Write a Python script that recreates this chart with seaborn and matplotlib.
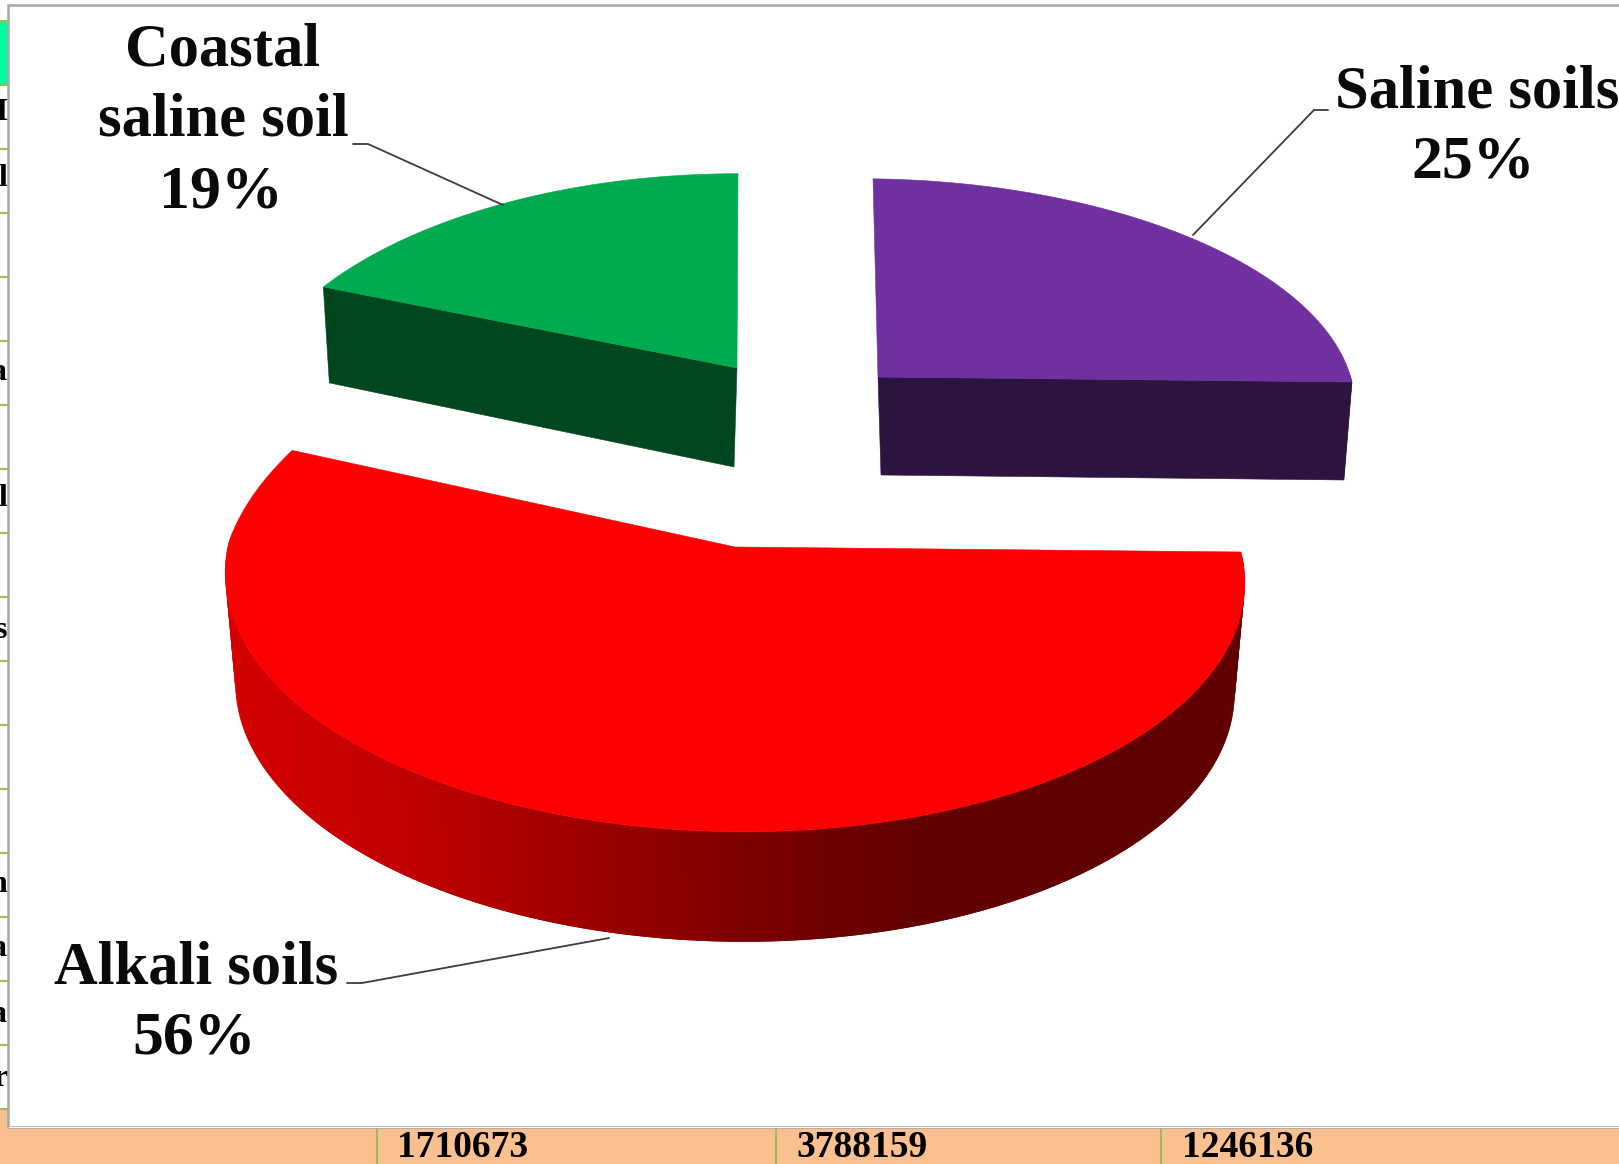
import numpy as np
import matplotlib
matplotlib.use("Agg")
import matplotlib.pyplot as plt
from matplotlib.patches import Polygon, Rectangle
import seaborn as sns

# Soil classes, clockwise from twelve o'clock
soil_names = ["Saline soils", "Alkali soils", "Coastal\nsaline soil"]
soil_shares = [25, 56, 19]
top_colors = ["#7030A0", "#FF0000", "#00AB50"]
side_colors = ["#2D133F", "#600000", "#00461F"]

# Totals printed in the table row beneath the chart
table_totals = ["1710673", "3788159", "1246136"]
# Fragments of the table's first column, left of the chart frame
row_letters = ["H", "l", "a", "l", "s", "n", "a", "a", "r"]
row_letter_y = [113, 178, 373, 499, 631, 885, 949, 1015, 1078]

sns.set_theme(style="white")
SERIF = "Liberation Serif"

W, H = 1619, 1164
fig = plt.figure(figsize=(W / 100, H / 100), dpi=100, facecolor="white")
ax = fig.add_axes([0, 0, 1, 1])
ax.set_xlim(0, W)
ax.set_ylim(H, 0)
ax.axis("off")

# --- table behind the chart ---
GRID = "#9BBB59"
ORANGE = "#FAC090"
ax.add_patch(Rectangle((0, 21), 8, 64, fc="#00FA9A", ec="none", zorder=1))
ax.add_patch(Rectangle((0, 1109), W, H - 1109, fc=ORANGE, ec="none", zorder=1))
for k in range(18):
    ax.plot([0, 8], [21 + 64 * k] * 2, color=GRID, lw=1.5, zorder=2, solid_capstyle="butt")
for xv in [376.5, 776, 1161]:
    ax.plot([xv, xv], [1128, H], color=GRID, lw=1.4, zorder=2)
for label, xt in zip(table_totals, [397, 796, 1182]):
    ax.text(xt, 1157, label, family=SERIF, weight="bold", fontsize=27,
            ha="left", va="baseline", color="black", zorder=2)
strip = Rectangle((0, 0), 6.5, H, transform=ax.transData)
for letter, yt in zip(row_letters, row_letter_y):
    t = ax.text(7, yt, letter, family=SERIF, weight="bold", fontsize=23,
                ha="right", va="center", color="black", zorder=2)
    t.set_clip_path(strip)

# --- chart frame ---
ax.add_patch(Rectangle((8, 4.5), W + 20, 1122, fc="white", ec="#A6A6A6", lw=1.8, zorder=3))
ax.add_patch(Rectangle((9, 1126.8), W, 1.6, fc="white", ec="none", zorder=3))


def to_screen(theta, wedge, level=0.0):
    """Project a point on the unit disc into the tilted chart plane."""
    u, v = np.cos(theta), np.sin(theta)
    w = 1 + wedge["k"] * v
    back = max(v, 0.0)
    x = wedge["rx"] * u / w * (1 - wedge["back_x"] * back) + wedge["skew"] * v
    y = -wedge["ry"] * v / w * (1 + wedge["back_y"] * back) + wedge["tilt"] * u
    x = wedge["ax"] + x * (1 - level * wedge["shrink"])
    y = wedge["ay"] + y + level * wedge["depth"]
    return x, y


# Placement of each exploded slice in the tilted view
views = [
    dict(ax=878, ay=377, rx=474, ry=218, k=0.10, skew=-5, tilt=5, back_x=0, back_y=0,
         depth=98, shrink=0.017, cut="end", low=(3, 98)),
    dict(ax=735, ay=547, rx=506, ry=250, k=0.122, skew=0, tilt=5, back_x=0.045, back_y=0.12,
         depth=110, shrink=0.02, cut=None, low=(0, 110)),
    dict(ax=737, ay=368, rx=483, ry=239, k=0.23, skew=1, tilt=0, back_x=0, back_y=0,
         depth=96, shrink=0.0145, cut="start", low=(-3, 99)),
]

# Rim shading of the large slice, lit from the left
rim_ramp = sns.blend_palette(["#D40000", "#C00000", "#A00000", "#7E0000", "#620000", "#600000", "#600000"], 256)

fractions = np.cumsum([0] + soil_shares) / sum(soil_shares)
for i, view in enumerate(views):
    start = np.pi / 2 - 2 * np.pi * fractions[i]
    end = np.pi / 2 - 2 * np.pi * fractions[i + 1]
    arc = np.linspace(start, end, 241)

    # outer rim as overlapping strips, so the shading can vary along it
    for a, b in zip(arc[:-2], arc[2:]):
        if np.sin(a) > 0.02 and np.sin(b) > 0.02:
            continue
        xa, ya = to_screen(a, view)
        xb, yb = to_screen(b, view)
        xc, yc = to_screen(b, view, 1)
        xd, yd = to_screen(a, view, 1)
        pos = np.clip((0.5 * (xa + xb) - 230) / (1240 - 230), 0, 1)
        col = rim_ramp[int(pos * 255)] if soil_shares[i] == max(soil_shares) else side_colors[i]
        ax.add_patch(Polygon([(xa, ya), (xb, yb), (xc, yc), (xd, yd)], closed=True,
                             fc=col, ec="none", zorder=4))

    # the cut face turned towards the viewer
    if view["cut"]:
        edge = start if view["cut"] == "start" else end
        centre_top = (view["ax"], view["ay"])
        centre_low = (view["ax"] + view["low"][0], view["ay"] + view["low"][1])
        ax.add_patch(Polygon([centre_top, to_screen(edge, view), to_screen(edge, view, 1), centre_low],
                             closed=True, fc=side_colors[i], ec=side_colors[i], lw=0.4, zorder=5))

    # top surface
    pts = [(view["ax"], view["ay"])] + [to_screen(t, view) for t in arc]
    ax.add_patch(Polygon(pts, closed=True, fc=top_colors[i], ec=top_colors[i], lw=0.4, zorder=6))

# --- labels and leader lines ---
name_places = [[(1477, 108)], [(196, 983)], [(222, 66), (223, 136)]]
share_places = [(1473.5, 178), (194, 1053), (221, 208)]
for name, share, places, (xp, yp) in zip(soil_names, soil_shares, name_places, share_places):
    for line, (xt, yt) in zip(name.split("\n"), places):
        ax.text(xt, yt, line, family=SERIF, weight="bold", fontsize=43.6, ha="center",
                va="baseline", color="#0A0A0A", zorder=8)
    ax.text(xp, yp, f"{share}%", family=SERIF, weight="bold", fontsize=44.5, ha="center",
            va="baseline", color="#0A0A0A", zorder=8)

leaders = [
    ([1193, 1314, 1328], [235, 110, 110]),
    ([609, 362, 347], [938, 983, 983]),
    ([503, 368, 353], [205, 144, 144]),
]
for xs, ys in leaders:
    ax.plot(xs, ys, color="#3C3C3C", lw=1.3, zorder=7, solid_joinstyle="miter")

fig.savefig("out.png", dpi=100, facecolor="white")
